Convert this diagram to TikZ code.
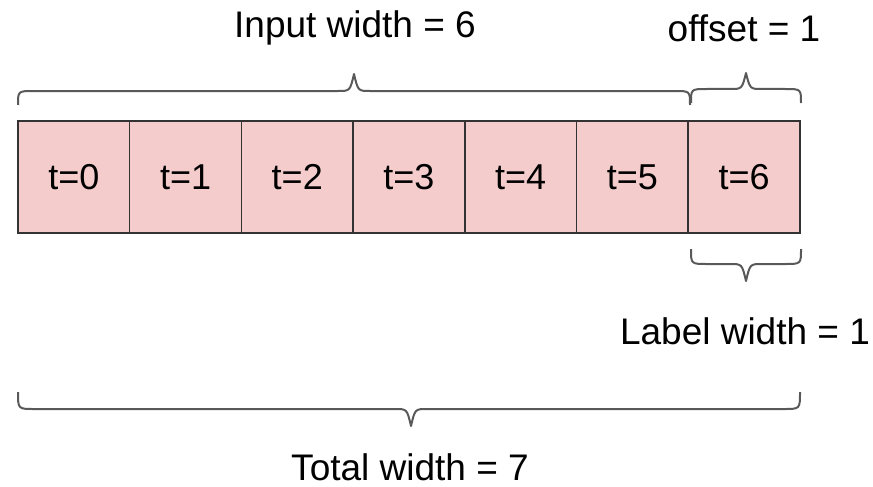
\documentclass[tikz,border=0pt]{standalone}
\usepackage{fontspec}
\setmainfont{Liberation Sans}
\definecolor{cellfill}{HTML}{F4CCCC}
\definecolor{cellline}{HTML}{333333}
\definecolor{bracecol}{HTML}{595959}
\begin{document}
\begin{tikzpicture}[x=1pt,y=-1pt,
  cell/.style={draw=cellline,fill=cellfill,line width=1.5pt,minimum width=111.7pt,minimum height=112pt,inner sep=0pt,font=\fontsize{36}{42}\selectfont},
  lbl/.style={inner sep=0pt,font=\fontsize{37}{44}\selectfont},
  bracestyle/.style={draw=bracecol,line width=2pt,line join=round}]
\useasboundingbox (0,0) rectangle (873,487);
\foreach \i in {0,...,6}{
  \node[cell] (c\i) at ({18+111.7*(\i+0.5)},177) {t=\i};
}
% Input width brace
\draw[bracestyle] (18,105) .. controls (18,91) .. (34,91) -- (338,91)
  .. controls (350,91) .. (354,74) .. controls (358,91) .. (370,91) -- (674,91)
  .. controls (690,91) .. (690,105);
% offset brace
\draw[bracestyle] (691,103) .. controls (691,89) .. (707,89) -- (730,89)
  .. controls (742,89) .. (746,73) .. controls (750,89) .. (762,89) -- (785,89)
  .. controls (801,89) .. (801,103);
% label brace
\draw[bracestyle] (691,249) .. controls (691,264) .. (707,264) -- (730,264)
  .. controls (742,264) .. (746,281) .. controls (750,264) .. (762,264) -- (785,264)
  .. controls (801,264) .. (801,249);
% total brace
\draw[bracestyle] (18,392) .. controls (18,409) .. (34,409) -- (395,409)
  .. controls (407,409) .. (411,426) .. controls (415,409) .. (427,409) -- (784,409)
  .. controls (800,409) .. (800,392);
\node[lbl] (inw) at (355,28) {Input width = 6};
\node[lbl] (offw) at (744,28) {offset = 1};
\node[lbl] (labw) at (745,331) {Label width = 1};
\node[lbl] (totw) at (410,467) {Total width = 7};
\end{tikzpicture}
\end{document}
